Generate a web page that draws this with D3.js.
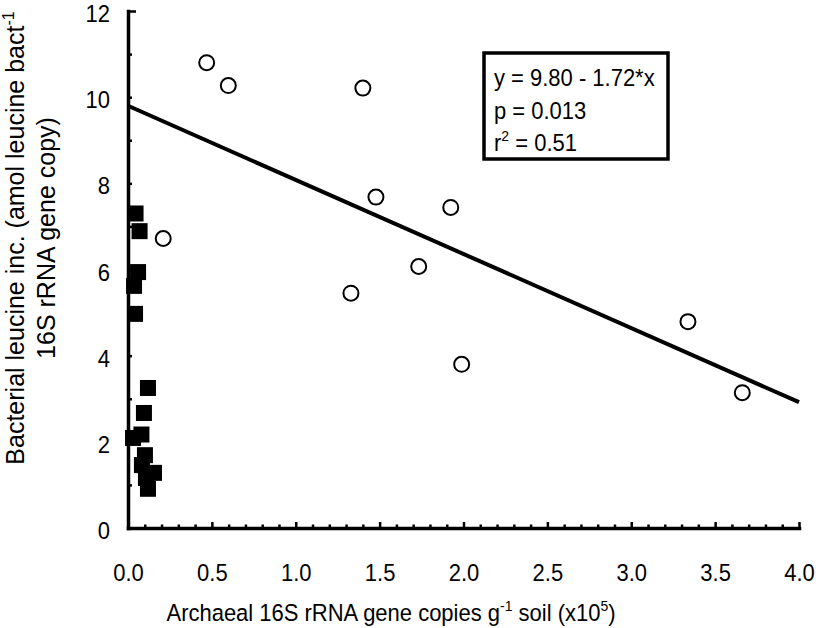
<!DOCTYPE html>
<html><head><meta charset="utf-8">
<script src="https://cdn.jsdelivr.net/npm/d3@7"></script>
<style>body{margin:0;background:#fff}svg{display:block}text{font-family:"Liberation Sans",Arial,sans-serif;fill:#000}</style>
</head><body>
<svg id="c" width="816" height="628"></svg>
<script>
// Open circles (archaeal copies x1e5, bacterial leucine inc.)
const circleX = [0.469, 0.598, 1.40, 1.478, 1.924, 0.210, 1.733, 1.329, 1.989, 3.662, 3.338];
const circleY = [10.80, 10.27, 10.21, 7.68, 7.44, 6.72, 6.07, 5.45, 3.80, 3.14, 4.79];
// Filled squares
const squareX = [0.045, 0.069, 0.060, 0.036, 0.042, 0.119, 0.095, 0.080, 0.030, 0.101, 0.083, 0.155, 0.107, 0.119];
const squareY = [7.30, 6.89, 5.94, 5.62, 4.97, 3.25, 2.67, 2.17, 2.09, 1.69, 1.46, 1.28, 1.16, 0.91];
// Regression line endpoints (y = 9.80 - 1.72*x)
const fitX = [0, 4.0];
const fitY = [9.80, 2.92];
const xTicks = [0, 0.5, 1.0, 1.5, 2.0, 2.5, 3.0, 3.5, 4.0];
const yTicks = [0, 2, 4, 6, 8, 10, 12];
const statLines = ["y = 9.80 - 1.72*x", "p = 0.013", "r2 = 0.51"];

const FS = 22, VS = 1.08;
const svg = d3.select("#c");
const x = d3.scaleLinear().domain([0, 4]).range([128, 799]);
const y = d3.scaleLinear().domain([0, 12]).range([528, 11]);

function txt(parent, tx, ty, anchor) {
  return parent.append("text").attr("transform", `translate(${tx},${ty}) scale(1,${VS})`)
    .attr("text-anchor", anchor || "start").attr("font-size", FS);
}

// Axes
const gx = svg.append("g").attr("transform", "translate(0,528)");
gx.call(d3.axisBottom(x).tickValues(d3.range(0, 41).map(d => d / 10)).tickSizeInner(0).tickSizeOuter(0).tickFormat(""));
gx.select(".domain").attr("stroke", "#000").attr("stroke-width", 3.5).attr("stroke-linecap", "square");
gx.selectAll(".tick line").attr("y2", (d) => (Math.abs(d * 2 - Math.round(d * 2)) < 1e-6 ? -6 : -3.5)).attr("stroke", "#000").attr("stroke-width", 2.5);
const gxl = svg.append("g").attr("transform", "translate(0,528)");
gxl.call(d3.axisBottom(x).tickValues(xTicks).tickSize(0).tickPadding(0).tickFormat(d3.format(".1f")));
gxl.select(".domain").remove();
gxl.selectAll(".tick text").attr("y", null).attr("dy", null)
  .attr("transform", `translate(0,53) scale(1,${VS})`)
  .attr("font-size", FS).style("font-family", "'Liberation Sans',Arial,sans-serif");

const gy = svg.append("g").attr("transform", "translate(128,0)");
gy.call(d3.axisLeft(y).tickValues(d3.range(0, 13)).tickSizeInner(0).tickSizeOuter(0).tickFormat(""));
gy.select(".domain").attr("stroke", "#000").attr("stroke-width", 3.5).attr("stroke-linecap", "square");
gy.selectAll(".tick line").attr("x2", d => d === 12 ? 8 : 4).attr("stroke", "#000").attr("stroke-width", 2.5);
const gyl = svg.append("g").attr("transform", "translate(128,0)");
gyl.call(d3.axisLeft(y).tickValues(yTicks).tickSize(0).tickPadding(0).tickFormat(d3.format("d")));
gyl.select(".domain").remove();
gyl.selectAll(".tick text").attr("x", null).attr("dy", null)
  .attr("transform", `translate(-18,${0.358 * FS * VS + 2}) scale(1,${VS})`)
  .attr("font-size", FS).style("font-family", "'Liberation Sans',Arial,sans-serif");

// Regression line
svg.append("line")
  .attr("x1", x(fitX[0])).attr("y1", y(fitY[0]))
  .attr("x2", x(fitX[1])).attr("y2", y(fitY[1]))
  .attr("stroke", "#000").attr("stroke-width", 4);

// Squares
svg.append("g").selectAll("rect").data(squareX.map((v, i) => [v, squareY[i]])).join("rect")
  .attr("x", d => x(d[0]) - 8).attr("y", d => y(d[1]) - 8)
  .attr("width", 16).attr("height", 16).attr("fill", "#000");

// Circles
svg.append("g").selectAll("circle").data(circleX.map((v, i) => [v, circleY[i]])).join("circle")
  .attr("cx", d => x(d[0])).attr("cy", d => y(d[1])).attr("r", 7.5)
  .attr("fill", "#fff").attr("stroke", "#000").attr("stroke-width", 2);

// Stats box
svg.append("rect").attr("x", 484).attr("y", 53).attr("width", 184).attr("height", 106)
  .attr("fill", "#fff").attr("stroke", "#000").attr("stroke-width", 3.5);
txt(svg, 494, 86).text(statLines[0]);
txt(svg, 494, 119).text(statLines[1]);
const r2 = txt(svg, 494, 151);
r2.append("tspan").text("r");
r2.append("tspan").attr("font-size", 14).attr("dy", -9).text("2");
r2.append("tspan").attr("dy", 9).text(" = 0.51");

// X title
const xt = txt(svg, 391, 621, "middle");
xt.append("tspan").text("Archaeal 16S rRNA gene copies g");
xt.append("tspan").attr("font-size", 14).attr("dy", -9).text("-1");
xt.append("tspan").attr("dy", 9).text(" soil (x10");
xt.append("tspan").attr("font-size", 14).attr("dy", -9).text("5");
xt.append("tspan").attr("dy", 9).text(")");

// Y title (two lines, rotated)
const yt = svg.append("g").attr("transform", "translate(24,238) rotate(-90)");
const l1 = yt.append("text").attr("x", 0).attr("y", 0).attr("text-anchor", "middle").attr("font-size", 25);
l1.append("tspan").text("Bacterial leucine inc. (amol leucine bact");
l1.append("tspan").attr("font-size", 16).attr("dy", -10).text("-1");
yt.append("text").attr("x", 0).attr("y", 31).attr("text-anchor", "middle").attr("font-size", 25).text("16S rRNA gene copy)");
</script>
</body></html>
